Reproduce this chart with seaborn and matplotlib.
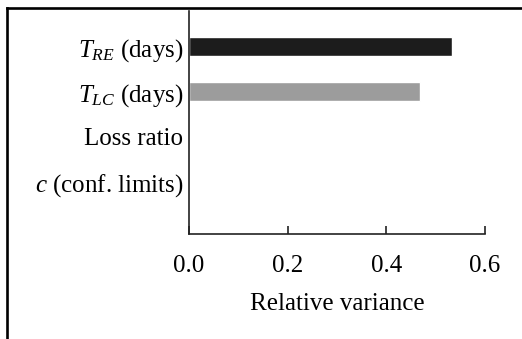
import matplotlib
matplotlib.use('Agg')
import matplotlib.pyplot as plt
import seaborn as sns
import pandas as pd
from matplotlib.lines import Line2D

# Data
labels = [r'$T_{RE}$ (days)', r'$T_{LC}$ (days)', 'Loss ratio', r'$c$ (conf. limits)']
variance = [0.533, 0.469, 0.0, 0.0]
bar_colors = ['#1c1c1c', '#9c9c9c', '#9c9c9c', '#9c9c9c']
x_ticks = [0.0, 0.2, 0.4, 0.6]

sns.set_style('white')
plt.rcParams['font.family'] = ['Liberation Serif', 'DejaVu Serif']
plt.rcParams['mathtext.fontset'] = 'custom'
plt.rcParams['mathtext.rm'] = 'Liberation Serif'
plt.rcParams['mathtext.it'] = 'Liberation Serif:italic'
plt.rcParams['text.color'] = 'black'
plt.rcParams['xtick.color'] = 'black'
plt.rcParams['ytick.color'] = 'black'
plt.rcParams['axes.labelcolor'] = 'black'

df = pd.DataFrame({'label': labels, 'value': variance})

fig = plt.figure(figsize=(5.22, 3.39), dpi=100)
ax = fig.add_axes([0.362, 0.31, 0.567, 0.658])

sns.barplot(data=df, x='value', y='label', hue='label', palette=bar_colors,
            legend=False, orient='h', width=0.41, saturation=1, ax=ax)

ax.set_xlim(0, 0.6)
ax.set_ylim(4.16, -0.79)
ax.set_xticks(x_ticks)
ax.set_xticklabels([f'{t:.1f}' for t in x_ticks])
ax.set_xlabel('Relative variance', fontsize=18, labelpad=12)
ax.set_ylabel('')

for s in ['top', 'right']:
    ax.spines[s].set_visible(False)
for s in ['left', 'bottom']:
    ax.spines[s].set_color('#222222')
    ax.spines[s].set_linewidth(1.2)

ax.tick_params(axis='x', bottom=True, direction='in', length=6, width=1.2, color='#222222',
               labelsize=18, pad=15)
ax.tick_params(axis='y', left=False, length=0, labelsize=18, pad=4)

# frame lines around the figure (top and left)
fig.add_artist(Line2D([6.8 / 522, 6.8 / 522], [0, 1 - 7.5 / 339], color='black', lw=1.9,
                      transform=fig.transFigure, solid_capstyle='projecting'))
fig.add_artist(Line2D([6.8 / 522, 1], [1 - 7.5 / 339, 1 - 7.5 / 339], color='black', lw=1.9,
                      transform=fig.transFigure, solid_capstyle='projecting'))

fig.savefig('out.png', dpi=100)
